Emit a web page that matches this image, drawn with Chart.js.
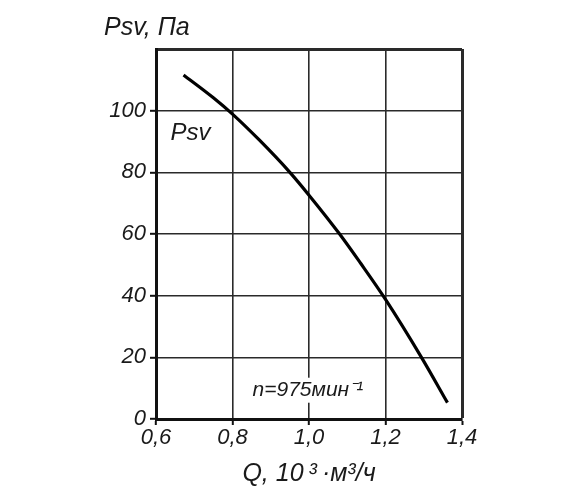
<!DOCTYPE html>
<html>
<head>
<meta charset="utf-8">
<script src="https://cdn.jsdelivr.net/npm/chart.js@4.4.0/dist/chart.umd.min.js"></script>
<style>
  html, body { margin: 0; padding: 0; background: #fff; }
  #wrap { width: 586px; height: 501px; }
</style>
</head>
<body>
<div id="wrap"><canvas id="fan_chart"></canvas></div>
<script>
// CHART DATA
const q_values = [0.672, 0.75, 0.8, 0.87, 0.95, 1.0, 1.08, 1.135, 1.2, 1.294, 1.362];
const psv_values = [111.6, 104.2, 98.9, 90.5, 80, 72.6, 60, 50.5, 38.8, 20, 5.3];
const x_ticks = [0.6, 0.8, 1.0, 1.2, 1.4];
const y_ticks = [0, 20, 40, 60, 80, 100, 120];

const y_title = 'Psv, Па';
const x_title = 'Q, 10\u2009³\u2009·м³/ч';
const curve_label = 'Psv';
const speed_label = 'n=975мин⁻¹';

const FONT = "'Liberation Sans', Arial, sans-serif";
const INK = '#1a1a1a';

// TEXT DRAWN ON TOP OF THE CHART
const labelsPlugin = {
	id: 'labels',
	afterDraw(chart) {
		const c = chart.ctx;
		const x = chart.scales.x;
		const y = chart.scales.y;
		const area = chart.chartArea;
		c.save();
		c.fillStyle = INK;
		c.textBaseline = 'middle';

		// axis titles
		c.font = 'italic 25px ' + FONT;
		c.textAlign = 'left';
		c.fillText(y_title, 104, 28);
		c.textAlign = 'center';
		c.fillText(x_title, (area.left + area.right) / 2, 474);

		// curve name
		c.font = 'italic 24px ' + FONT;
		c.textAlign = 'left';
		c.fillText(curve_label, x.getPixelForValue(0.638), y.getPixelForValue(92.5));

		// rotation speed with white box behind it
		c.font = 'italic 21px ' + FONT;
		const sx = x.getPixelForValue(0.997);
		const sy = y.getPixelForValue(9.5);
		const w = c.measureText(speed_label).width;
		c.fillStyle = '#fff';
		c.fillRect(sx - w / 2 - 2, sy - 12, w + 4, 25);
		c.fillStyle = INK;
		c.textAlign = 'center';
		c.fillText(speed_label, sx, sy);
		c.restore();
	}
};

const tickFont = { family: FONT, size: 22, style: 'italic' };

new Chart(document.getElementById('fan_chart').getContext('2d'), {
	type: 'line',
	data: {
		datasets: [{
			label: curve_label,
			data: q_values.map((q, i) => ({ x: q, y: psv_values[i] })),
			borderColor: '#000',
			borderWidth: 3.2,
			pointRadius: 0,
			fill: false,
			cubicInterpolationMode: 'monotone'
		}]
	},
	options: {
		responsive: true,
		maintainAspectRatio: false,
		animation: false,
		layout: { padding: { top: 49, right: 124, left: 0, bottom: 0 } },
		plugins: {
			legend: { display: false },
			tooltip: { enabled: false }
		},
		scales: {
			x: {
				type: 'linear',
				min: 0.6,
				max: 1.4,
				afterBuildTicks: scale => { scale.ticks = x_ticks.map(v => ({ value: v })); },
				afterFit: scale => { scale.height = 82; },
				ticks: {
					color: INK,
					font: tickFont,
					padding: 0,
					maxRotation: 0,
					callback: v => v.toFixed(1).replace('.', ',')
				},
				grid: {
					color: '#2a2a2a',
					lineWidth: ctx => ctx.tick && ctx.tick.value === 1.4 ? 3 : 1.6,
					tickLength: 6,
					tickColor: '#111',
					tickWidth: 2
				},
				border: { display: true, width: 3, color: '#111' }
			},
			y: {
				min: 0,
				max: 120,
				afterBuildTicks: scale => { scale.ticks = y_ticks.map(v => ({ value: v })); },
				afterFit: scale => { scale.width = 156; },
				ticks: {
					color: INK,
					font: tickFont,
					padding: 4,
					callback: v => v === 120 ? '' : String(v)
				},
				grid: {
					color: '#2a2a2a',
					lineWidth: ctx => ctx.tick && ctx.tick.value === 120 ? 3 : 1.6,
					tickLength: 6,
					tickColor: ctx => ctx.tick && ctx.tick.value === 120 ? 'rgba(0,0,0,0)' : '#111',
					tickWidth: 2
				},
				border: { display: true, width: 3, color: '#111' }
			}
		}
	},
	plugins: [labelsPlugin]
});
</script>
</body>
</html>
